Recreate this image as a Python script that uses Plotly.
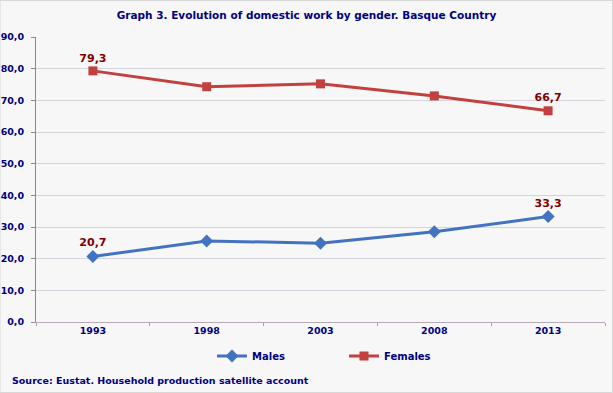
import plotly.graph_objects as go

years = ["1993", "1998", "2003", "2008", "2013"]
males = [20.7, 25.6, 24.9, 28.5, 33.3]
females = [79.3, 74.3, 75.2, 71.4, 66.7]
label_idx = [0, 4]

def labels(vals):
    return [f"{v:.1f}".replace(".", ",") if i in label_idx else "" for i, v in enumerate(vals)]

NAVY = "#000080"
FONT = "DejaVu Sans"
PW, PH = 569, 285

fig = go.Figure()
fig.add_trace(go.Scatter(
    x=years, y=males, name="Males", mode="lines+markers+text",
    line=dict(color="#4273c0", width=3),
    marker=dict(symbol="diamond", size=10, color="#4273c0"),
    text=labels(males), textposition="top center",
    textfont=dict(family=FONT, size=11, color="#800000", weight="bold"),
))
fig.add_trace(go.Scatter(
    x=years, y=females, name="Females", mode="lines+markers+text",
    line=dict(color="#c2413f", width=3),
    marker=dict(symbol="square", size=9, color="#c2413f"),
    text=labels(females), textposition="top center",
    textfont=dict(family=FONT, size=11, color="#800000", weight="bold"),
))

fig.update_layout(
    width=613, height=393,
    margin=dict(l=36, r=8, t=37, b=71, autoexpand=False),
    paper_bgcolor="#f7f7f7", plot_bgcolor="#f7f7f7",
    separators=",.",
    font=dict(family=FONT, size=10, color=NAVY),
    title=dict(text="<b>Graph 3. Evolution of domestic work by gender. Basque Country</b>",
               x=0.5, xanchor="center", y=1 - 15/393, yanchor="middle",
               font=dict(family=FONT, size=10.5, color=NAVY)),
    showlegend=True,
    legend=dict(orientation="h", x=(212 - 36) / PW, xanchor="left", y=-34/PH, yanchor="middle",
                font=dict(family=FONT, size=10, color=NAVY, weight="bold"),
                itemwidth=30, entrywidth=87, entrywidthmode="pixels",
                bgcolor="rgba(0,0,0,0)"),
    xaxis=dict(type="category", range=[-0.5, 4.5], showgrid=False, showline=True,
               linecolor="#b8a8b8", automargin=False,
               ticks="outside", tickson="boundaries", ticklen=3, tickcolor="#a0a0a8",
               tickfont=dict(family=FONT, size=9.5, color=NAVY, weight="bold")),
    yaxis=dict(range=[0, 90], dtick=10, tickformat=".1f", showgrid=True, automargin=False,
               gridcolor="#d4d4dc", gridwidth=1, showline=True, linecolor="#8a8a8a",
               linewidth=1, ticks="outside", ticklen=4, tickcolor="#8a8a8a",
               ticklabelstandoff=5,
               tickfont=dict(family=FONT, size=9.5, color=NAVY, weight="bold"),
               zeroline=False),
    annotations=[dict(text="<b>Source: Eustat. Household production satellite account</b>",
                      xref="paper", yref="paper", x=-26/PW, y=-58/PH, xanchor="left",
                      yanchor="middle", showarrow=False,
                      font=dict(family=FONT, size=9.5, color=NAVY))],
    shapes=[dict(type="rect", xref="paper", yref="paper",
                 x0=-36/PW, x1=1 + 7.5/PW, y0=-70.5/PH, y1=1 + 36.5/PH,
                 line=dict(color="#d8d8d8", width=1), fillcolor="rgba(0,0,0,0)",
                 layer="below")],
)
fig.write_html("out.html", config={"displayModeBar": False},
               post_script="document.body.style.margin='0';")
